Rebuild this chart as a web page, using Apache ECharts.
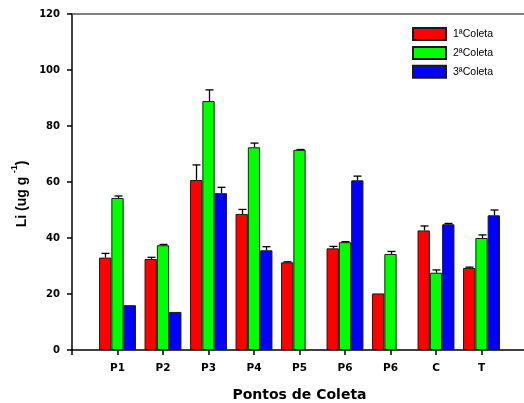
<!DOCTYPE html>
<html>
<head>
<meta charset="utf-8">
<script src="https://cdn.jsdelivr.net/npm/echarts@6/dist/echarts.min.js"></script>
<style>html,body{margin:0;padding:0;background:#fff}#c{width:524px;height:403px}</style>
</head>
<body>
<div id="c"></div>
<script>
var categories = ['', 'P1', 'P2', 'P3', 'P4', 'P5', 'P6', 'P6', 'C', 'T', ''];
var seriesNames = ['1ªColeta', '2ªColeta', '3ªColeta'];
var coleta1 = [null, 33.0, 32.5, 60.7, 48.6, 31.3, 36.3, 20.2, 42.7, 29.3, null];
var coleta2 = [null, 54.3, 37.4, 88.9, 72.4, 71.5, 38.5, 34.3, 27.6, 40.0, null];
var coleta3 = [null, 16.0, 13.6, 56.0, 35.6, null, 60.6, null, 44.9, 48.1, null];
var erro1 = [null, 34.5, 33.1, 66.1, 50.2, 31.5, 37.0, null, 44.3, 29.6, null];
var erro2 = [null, 55.0, 37.7, 92.9, 73.9, 71.6, 38.7, 35.2, 28.6, 41.1, null];
var erro3 = [null, null, null, 58.1, 36.9, null, 62.1, null, 45.2, 50.0, null];
var yTicks = [0, 20, 40, 60, 80, 100, 120];

var colors = ['#FF0000', '#00FF00', '#0000FF'];
var FONT = 'Arial, "Liberation Sans", sans-serif';
var WFONT = '"DejaVu Sans", Arial, sans-serif';
var BAR_W = 12.3;

var values = [coleta1, coleta2, coleta3];
var errs = [erro1, erro2, erro3];

var series = [];
values.forEach(function (vals, k) {
  series.push({
    name: seriesNames[k],
    type: 'bar',
    xAxisIndex: 0,
    barWidth: BAR_W,
    barGap: '0%',
    data: vals,
    itemStyle: { color: colors[k], borderColor: '#1a1a1a', borderWidth: 1 },
    emphasis: { disabled: true },
    z: 2
  });
});
errs.forEach(function (ev, k) {
  var d = [];
  ev.forEach(function (e, i) {
    if (e != null && values[k][i] != null) d.push([i, e, values[k][i]]);
  });
  series.push({
    type: 'custom',
    xAxisIndex: 0,
    silent: true,
    z: 3,
    data: d,
    renderItem: function (params, api) {
      var top = api.coord([api.value(0), api.value(1)]);
      var base = api.coord([api.value(0), api.value(2)]);
      var x = Math.round(top[0] + (k - 1) * BAR_W) + 0.5;
      var cap = 4;
      var st = { stroke: '#000', lineWidth: 1.3 };
      return {
        type: 'group',
        children: [
          { type: 'line', shape: { x1: x, y1: base[1], x2: x, y2: top[1] }, style: st },
          { type: 'line', shape: { x1: x - cap, y1: top[1], x2: x + cap, y2: top[1] }, style: st }
        ]
      };
    }
  });
});

var chart = echarts.init(document.getElementById('c'), null, { renderer: 'canvas' });
chart.setOption({
  animation: false,
  backgroundColor: '#fff',
  textStyle: { fontFamily: FONT },
  grid: { left: 72, top: 14, right: -3, bottom: 53, containLabel: false, outerBoundsMode: 'none' },
  legend: {
    data: seriesNames,
    orient: 'vertical',
    left: 407,
    top: 22,
    itemWidth: 33,
    itemHeight: 12,
    itemGap: 4.9,
    icon: 'rect',
    textStyle: { fontFamily: FONT, fontSize: 10.5, color: '#000', padding: [0, 0, 0, 2] },
    selectedMode: false
  },
  xAxis: [{
    type: 'category',
    data: categories,
    boundaryGap: false,
    position: 'bottom',
    axisLine: { lineStyle: { color: '#000', width: 1.5 } },
    axisTick: { show: true, length: 5, inside: false, lineStyle: { color: '#000', width: 1.5 } },
    axisLabel: { interval: 0, margin: 13, fontFamily: WFONT, fontSize: 10.5, fontWeight: 'bold', color: '#000' },
    splitLine: { show: false },
    name: 'Pontos de Coleta',
    nameLocation: 'middle',
    nameGap: 38,
    nameTextStyle: { fontFamily: WFONT, fontSize: 14, fontWeight: 'bold', color: '#000' }
  }, {
    type: 'category',
    data: categories,
    boundaryGap: false,
    position: 'top',
    axisLine: { lineStyle: { color: '#555', width: 1.5 } },
    axisTick: { show: false },
    axisLabel: { show: false },
    splitLine: { show: false }
  }],
  yAxis: {
    type: 'value',
    min: yTicks[0],
    max: yTicks[yTicks.length - 1],
    interval: 20,
    axisLine: { show: true, lineStyle: { color: '#000', width: 1.5 } },
    axisTick: { show: true, length: 5, inside: false, lineStyle: { color: '#000', width: 1.5 } },
    axisLabel: { margin: 12, fontFamily: WFONT, fontSize: 10, fontWeight: 'bold', color: '#000' },
    splitLine: { show: false }
  },
  graphic: [{
    type: 'text',
    x: 22,
    y: 194,
    rotation: Math.PI / 2,
    style: {
      text: '{a|Li (ug g }{s|-1}{a|)}',
      align: 'center',
      verticalAlign: 'middle',
      fill: '#000',
      rich: {
        a: { fontFamily: FONT, fontSize: 14, fontWeight: 'bold', fill: '#000', lineHeight: 24, verticalAlign: 'middle' },
        s: { fontFamily: FONT, fontSize: 8.5, fontWeight: 'bold', fill: '#000', lineHeight: 8, verticalAlign: 'top' }
      }
    }
  }],
  series: series
});
</script>
</body>
</html>
